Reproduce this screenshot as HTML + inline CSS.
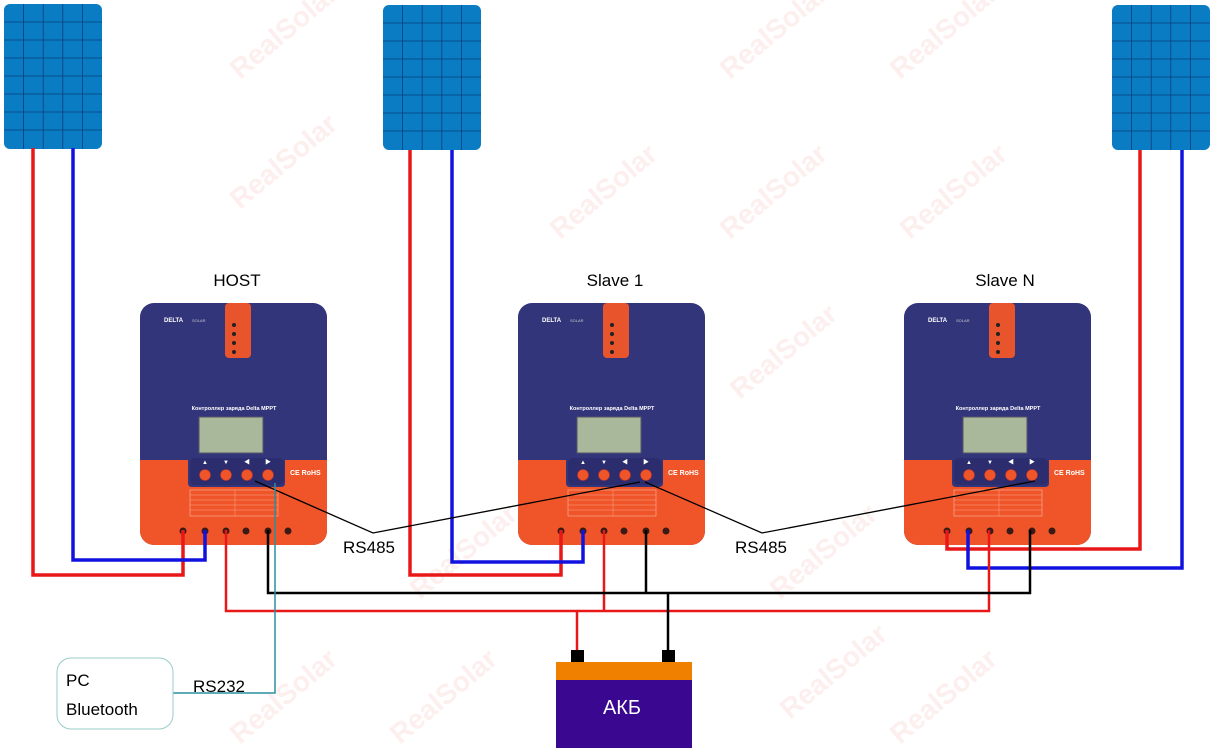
<!DOCTYPE html>
<html><head><meta charset="utf-8"><style>
html,body{margin:0;padding:0;background:#fff;}
svg{display:block;font-family:"Liberation Sans","Noto Sans CJK SC",sans-serif;}
</style></head><body>
<svg width="1215" height="752" viewBox="0 0 1215 752" xmlns="http://www.w3.org/2000/svg">
<defs>
<g id="panel">
<rect x="0" y="0" width="98" height="145" rx="6" fill="#0a7cc4"/>
<g stroke="#0b3d7a" stroke-width="0.8">
<line x1="19.6" y1="0" x2="19.6" y2="145"/><line x1="39.2" y1="0" x2="39.2" y2="145"/>
<line x1="58.8" y1="0" x2="58.8" y2="145"/><line x1="78.4" y1="0" x2="78.4" y2="145"/>
<line x1="0" y1="18" x2="98" y2="18"/><line x1="0" y1="36" x2="98" y2="36"/>
<line x1="0" y1="54" x2="98" y2="54"/><line x1="0" y1="72" x2="98" y2="72"/>
<line x1="0" y1="90" x2="98" y2="90"/><line x1="0" y1="108" x2="98" y2="108"/>
<line x1="0" y1="126" x2="98" y2="126"/>
</g>
</g>
<clipPath id="bodyclip"><rect x="0" y="0" width="187" height="242" rx="14"/></clipPath>
<g id="ctrl">
<g clip-path="url(#bodyclip)">
<rect x="0" y="0" width="187" height="242" fill="#33357a"/>
<path d="M0 157 H48 V180 Q48 184 52 184 H141 Q145 184 145 180 V157 H187 V242 H0Z" fill="#f0552a"/>
</g>
<rect x="85" y="0" width="26" height="55" rx="4" fill="#e8552c"/>
<circle cx="94" cy="22" r="2" fill="#222"/><circle cx="94" cy="31" r="2" fill="#222"/>
<circle cx="94" cy="40" r="2" fill="#222"/><circle cx="94" cy="49" r="2" fill="#222"/>
<text x="24" y="19" font-size="6" font-weight="bold" fill="#fff">DELTA</text>
<text x="52" y="19" font-size="4" fill="#ccc">SOLAR</text>
<text x="94" y="107" font-size="5.5" font-weight="bold" fill="#fff" text-anchor="middle">Контроллер заряда Delta MPPT</text>
<rect x="59" y="114" width="64" height="36" fill="#a9b79a" stroke="#556" stroke-width="1"/>
<rect x="50" y="155" width="94" height="27" rx="5" fill="#2b2d6e"/>
<g fill="#fff" font-size="6" text-anchor="middle"><text x="65" y="161">▲</text><text x="86" y="161">▼</text><text x="107" y="161">◀</text><text x="128" y="161">▶</text></g>
<g fill="#f0552a" stroke="#b33" stroke-width="0.6"><circle cx="65" cy="172" r="5.5"/><circle cx="86" cy="172" r="5.5"/><circle cx="107" cy="172" r="5.5"/><circle cx="128" cy="172" r="5.5"/></g>
<text x="150" y="172" font-size="7" font-weight="bold" fill="#fff">CE RoHS</text>
<rect x="50" y="187" width="88" height="26" fill="none" stroke="#f7b8a0" stroke-width="0.6"/>
<g stroke="#f7b8a0" stroke-width="0.4"><line x1="50" y1="192" x2="138" y2="192"/><line x1="50" y1="197" x2="138" y2="197"/><line x1="50" y1="202" x2="138" y2="202"/><line x1="50" y1="207" x2="138" y2="207"/><line x1="95" y1="187" x2="95" y2="213"/></g>
<g fill="#3a1a14"><circle cx="43" cy="228" r="3.5"/><circle cx="65" cy="228" r="3.5"/><circle cx="86" cy="228" r="3.5"/><circle cx="106" cy="228" r="3.5"/><circle cx="128" cy="228" r="3.5"/><circle cx="148" cy="228" r="3.5"/></g>
</g>
</defs>

<g font-size="28" font-weight="bold" fill="#f6c9c4" opacity="0.3">
<text transform="translate(240,80) rotate(-40)">RealSolar</text>
<text transform="translate(730,80) rotate(-40)">RealSolar</text>
<text transform="translate(900,80) rotate(-40)">RealSolar</text>
<text transform="translate(240,210) rotate(-40)">RealSolar</text>
<text transform="translate(560,240) rotate(-40)">RealSolar</text>
<text transform="translate(730,240) rotate(-40)">RealSolar</text>
<text transform="translate(910,240) rotate(-40)">RealSolar</text>
<text transform="translate(740,400) rotate(-40)">RealSolar</text>
<text transform="translate(420,600) rotate(-40)">RealSolar</text>
<text transform="translate(780,600) rotate(-40)">RealSolar</text>
<text transform="translate(790,720) rotate(-40)">RealSolar</text>
<text transform="translate(400,745) rotate(-40)">RealSolar</text>
<text transform="translate(240,745) rotate(-40)">RealSolar</text>
<text transform="translate(900,745) rotate(-40)">RealSolar</text>
</g>

<use href="#panel" x="4" y="4"/>
<use href="#panel" x="383" y="5"/>
<use href="#panel" x="1112" y="5"/>

<g font-size="17" fill="#000" text-anchor="middle">
<text x="237" y="286">HOST</text>
<text x="615" y="286">Slave 1</text>
<text x="1005" y="286">Slave N</text>
</g>

<use href="#ctrl" x="140" y="303"/>
<use href="#ctrl" x="518" y="303"/>
<use href="#ctrl" x="904" y="303"/>

<g fill="none" stroke-width="3.5">
<path d="M33 148 V575 H183 V530" stroke="#e81818"/>
<path d="M73 148 V560 H205 V530" stroke="#1212e0"/>
<path d="M410 150 V575 H561 V530" stroke="#e81818"/>
<path d="M452 150 V562 H583 V530" stroke="#1212e0"/>
<path d="M1140 150 V549 H947 V530" stroke="#e81818"/>
<path d="M1182 150 V568 H968 V530" stroke="#1212e0"/>
</g>
<g fill="none" stroke-width="2.5">
<path d="M226 530 V611 H989 V530" stroke="#e81818"/>
<path d="M604 530 V611" stroke="#e81818"/>
<path d="M577 611 V652" stroke="#e81818"/>
<path d="M268 530 V593 H1030 V530" stroke="#000"/>
<path d="M646 530 V593" stroke="#000"/>
<path d="M668 593 V652" stroke="#000"/>
</g>
<g fill="none" stroke="#000" stroke-width="1.3">
<path d="M255 481 L373 533 L640 482"/>
<path d="M645 482 L762 533 L1035 481"/>
</g>
<g font-size="17" fill="#000"><text x="343" y="553">RS485</text><text x="735" y="553">RS485</text></g>
<path d="M275 483 V693 H173" fill="none" stroke="#2a8fa0" stroke-width="1.5"/>
<text x="193" y="692" font-size="17" fill="#000">RS232</text>
<rect x="57" y="658" width="116" height="71" rx="14" fill="#fff" stroke="#9cc" stroke-width="1"/>
<text x="66" y="686" font-size="17">PC</text>
<text x="66" y="715" font-size="17">Bluetooth</text>
<rect x="571" y="650" width="13" height="13" fill="#000"/>
<rect x="662" y="650" width="13" height="13" fill="#000"/>
<rect x="556" y="662" width="136" height="18" fill="#f08000"/>
<rect x="556" y="680" width="136" height="68" fill="#3a0890"/>
<text x="622" y="714" font-size="20" fill="#fff" text-anchor="middle">АКБ</text>
</svg>
</body></html>
